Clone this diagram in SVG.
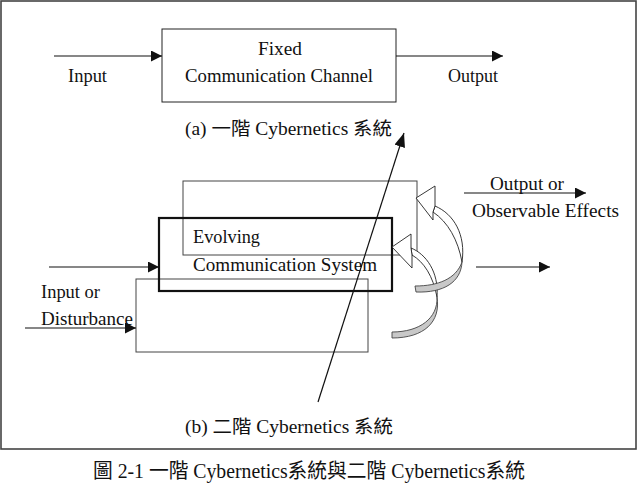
<svg xmlns="http://www.w3.org/2000/svg" width="638" height="487" viewBox="0 0 638 487">
<style>
text{font-family:"Liberation Serif","Noto Sans CJK TC",serif;font-size:18px;fill:#111}
.cap{font-size:20px}
.box{fill:none;stroke:#222;stroke-width:1}
.thin{fill:none;stroke:#444;stroke-width:1}
.thick{fill:none;stroke:#111;stroke-width:2.2}
.con{fill:none;stroke:#111;stroke-width:1.2}
.band{fill:#fff;stroke:#222;stroke-width:0.9;stroke-linejoin:round}
.gray{fill:#c8c8c8;stroke:#444;stroke-width:0.9;stroke-linejoin:round}
</style>
<defs>
<marker id="ah" markerUnits="userSpaceOnUse" markerWidth="12" markerHeight="11" refX="11" refY="5.5" orient="auto">
<path d="M0,0 L11,5.5 L0,11 Z" fill="#111"/>
</marker>
<marker id="ah2" markerUnits="userSpaceOnUse" markerWidth="15" markerHeight="11" refX="14" refY="5.5" orient="auto">
<path d="M0,0 L14,5.5 L0,11 Z" fill="#111"/>
</marker>
</defs>
<rect x="1" y="1" width="635" height="448" fill="#fff" stroke="#444" stroke-width="1.6"/>

<g id="fixed-channel">
<rect class="box" x="162" y="29" width="234" height="73"/>
<text x="258" y="55" textLength="44" lengthAdjust="spacingAndGlyphs">Fixed</text>
<text x="185" y="82" textLength="188" lengthAdjust="spacingAndGlyphs">Communication Channel</text>
</g>
<g id="label-input"><text x="68" y="82" textLength="39" lengthAdjust="spacingAndGlyphs">Input</text></g>
<g id="label-output"><text x="448" y="82" textLength="50" lengthAdjust="spacingAndGlyphs">Output</text></g>
<g id="caption-a"><text x="185" y="135" textLength="207" lengthAdjust="spacingAndGlyphs">(a)  一階 Cybernetics 系統</text></g>

<g id="evolving-system">
<rect class="thin" x="183" y="181" width="234" height="74"/>
<rect class="thin" x="136" y="279" width="232" height="73"/>
<rect class="thick" x="159" y="218" width="233" height="73"/>
<text x="193" y="243" textLength="67" lengthAdjust="spacingAndGlyphs">Evolving</text>
<text x="193" y="271" textLength="184" lengthAdjust="spacingAndGlyphs">Communication System</text>
</g>
<g id="label-disturbance">
<text x="41" y="298" textLength="59" lengthAdjust="spacingAndGlyphs">Input or</text>
<text x="41" y="325" textLength="92" lengthAdjust="spacingAndGlyphs">Disturbance</text>
</g>
<g id="label-effects">
<text x="490" y="190" textLength="74" lengthAdjust="spacingAndGlyphs">Output or</text>
<text x="472" y="217" textLength="147" lengthAdjust="spacingAndGlyphs">Observable Effects</text>
</g>

<g id="feedback-lower">
<path class="gray" d="M437,297 C438,318 420,332 392,332 L392,338 C424,338 441,322 437,297 Z"/>
<path class="band" d="M411,248 C426,254 439,272 437,297 C433,276 424,262 412,255 Z"/>
<polygon class="band" points="392,247 411,234 411,248 412,255 412,268"/>
</g>
<g id="feedback-upper">
<path class="gray" d="M462,262 C456,279 438,286 415,286 L416,292 C444,293 461,282 462,262 Z"/>
<path class="band" d="M435,206 C454,214 466,235 462,262 C458,240 448,222 433,212 Z"/>
<polygon class="band" points="416,198 435,186 435,206 433,212 433,220"/>
</g>

<g id="caption-b"><text x="185" y="433" textLength="208" lengthAdjust="spacingAndGlyphs">(b)  二階 Cybernetics 系統</text></g>
<g id="figure-caption"><text class="cap" x="93" y="478" textLength="432" lengthAdjust="spacingAndGlyphs">圖 2-1 一階 Cybernetics系統與二階 Cybernetics系統</text></g>

<g id="connectors">
<path class="con" d="M54,56 H162" marker-end="url(#ah)"/>
<path class="con" d="M396,56 H503" marker-end="url(#ah)"/>
<path class="con" d="M49,267 H159" marker-end="url(#ah)"/>
<path class="con" d="M25,328 H136" marker-end="url(#ah)"/>
<path class="con" d="M464,193 H586" marker-end="url(#ah)"/>
<path class="con" d="M476,267 H550" marker-end="url(#ah)"/>
<path class="con" d="M318,402 L404,133" marker-end="url(#ah2)"/>
</g>
</svg>
